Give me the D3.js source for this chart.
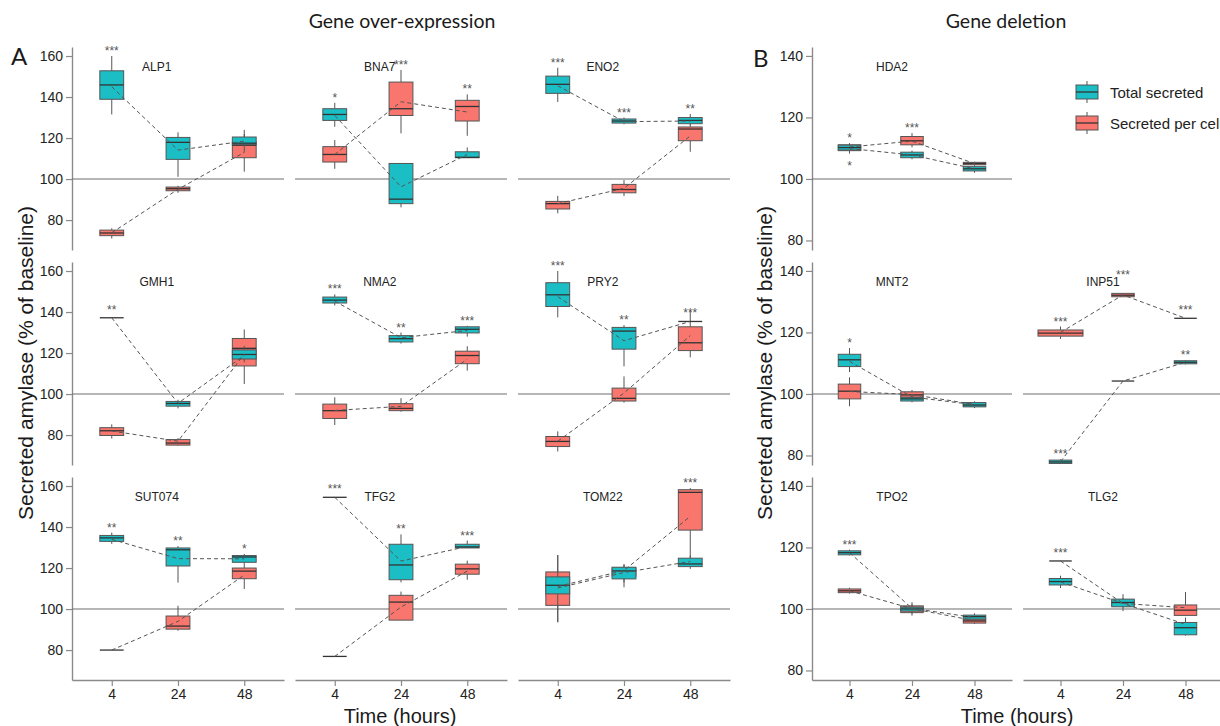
<!DOCTYPE html>
<html>
<head>
<meta charset="utf-8">
<script src="https://cdn.jsdelivr.net/npm/d3@7"></script>
<style>
  body { margin: 0; background: #fff; }
  svg text { font-family: "Liberation Sans", Arial, sans-serif; }
  .head { font-family: Lato, "Open Sans", sans-serif !important; }
</style>
</head>
<body>
<svg id="chart"></svg>
<script>
// ---- data ----------------------------------------------------------------
const times = ['4', '24', '48'];

const genes = ['ALP1', 'BNA7', 'ENO2', 'GMH1', 'NMA2', 'PRY2', 'SUT074', 'TFG2', 'TOM22',
               'HDA2', 'MNT2', 'INP51', 'TPO2', 'TLG2'];

// boxes per time point: [lower whisker, Q1, median, Q3, upper whisker]
const totalBoxes = [
  [[131.5, 138.9, 145.9, 152.8, 160], [101.1, 109.6, 117.9, 120.3, 122.8], [113, 116.8, 117.5, 120.5, 124]],   // ALP1
  [[125.5, 128.6, 131.5, 134.3, 137.2], [86.2, 88, 90.2, 107.6, 107.6], [110.4, 110.4, 110.6, 113.3, 115.4]],   // BNA7
  [[137.6, 141.8, 146.2, 150.2, 154.3], [126.7, 127.3, 128.3, 129.3, 130], [126.5, 127, 128.6, 130, 131.7]],    // ENO2
  [[137.2, 137.2, 137.2, 137.2, 137.2], [93, 94.1, 95.4, 96.4, 97.2], [115.5, 117.1, 119.3, 121.5, 123.5]],     // GMH1
  [[143.2, 144.4, 145.8, 147.3, 148.6], [124.6, 125.4, 127, 128.5, 130], [128, 129.8, 131.6, 132.8, 133.3]],    // NMA2
  [[137.4, 142.7, 148.4, 154.3, 160], [113.5, 121.9, 130.7, 132.5, 133.6], [135.4, 135.4, 135.4, 135.4, 135.4]], // PRY2
  [[131.8, 133, 134.7, 135.9, 137.3], [112.9, 121, 128.9, 129.8, 130.7], [122, 122.8, 125.4, 126.1, 126.9]],    // SUT074
  [[154.5, 154.5, 154.5, 154.5, 154.5], [113, 114.3, 121.5, 131.6, 136.4], [129.8, 129.8, 130.3, 131.6, 133.4]], // TFG2
  [[93.6, 107.4, 111.6, 115.7, 126.3], [110.6, 114.7, 118.6, 120.4, 122], [119.6, 120.7, 122, 124.8, 126.1]],   // TOM22
  [[108.3, 109.4, 110.2, 111, 111.6], [106.4, 106.9, 107.8, 108.7, 109.2], [102, 102.6, 103.3, 104, 104.3]],    // HDA2
  [[107.1, 108.9, 111.1, 112.9, 114.9], [97.3, 97.7, 98.4, 98.9, 99.3], [95.4, 95.8, 96.4, 97.2, 97.6]],        // MNT2
  [[77.2, 77.4, 77.9, 78.5, 78.7], [104.2, 104.2, 104.2, 104.2, 104.2], [109.6, 109.8, 110.3, 110.8, 111]],     // INP51
  [[117.4, 117.6, 118.3, 118.9, 119.3], [98.5, 99.3, 100, 100.6, 101.5], [96.5, 96.7, 97.5, 98, 98.6]],         // TPO2
  [[106.8, 107.8, 108.9, 109.9, 110.8], [99.3, 100.7, 102.1, 103.2, 104.8], [91.3, 91.6, 93.9, 95.6, 97.2]]     // TLG2
];

const perCellBoxes = [
  [[71, 72.4, 73.7, 75.1, 76], [93.3, 94.3, 95.3, 96.1, 96.7], [103.6, 110.4, 116.5, 118, 122]],                // ALP1
  [[105, 108.3, 112, 115.8, 119], [122.3, 131, 134.3, 147.3, 153.2], [121.1, 128.3, 135.4, 138.4, 141.3]],      // BNA7
  [[83.3, 85.4, 88, 89.1, 91.8], [91.7, 93.3, 94.9, 97.4, 99.5], [113.3, 118.7, 124.4, 125.4, 127]],            // ENO2
  [[78.3, 79.8, 82.1, 83.6, 85.2], [74.8, 75.1, 76.1, 77.8, 78.5], [104.9, 113.7, 122.3, 127.1, 131.5]],        // GMH1
  [[84.9, 88.1, 91.9, 95.1, 98.4], [91.4, 91.9, 93, 95.3, 98], [111.4, 114.8, 118.8, 120.9, 123.3]],            // NMA2
  [[72, 74.4, 76.9, 79.3, 81.8], [95.8, 96.6, 97.9, 102.9, 108.6], [117.9, 121.2, 125, 132.8, 140.8]],          // PRY2
  [[80, 80, 80, 80, 80], [89.4, 90.2, 91.7, 96.6, 101.6], [109.8, 114.8, 118.5, 120, 122]],                     // SUT074
  [[76.9, 76.9, 76.9, 76.9, 76.9], [94.6, 94.6, 103.4, 106.7, 108.5], [114.3, 117, 119.6, 121.9, 123.6]],       // TFG2
  [[93.6, 101.8, 110.5, 118.1, 126.3], [113, 116, 118.5, 120, 121.5], [124.8, 138.5, 156.9, 158.2, 159]],       // TOM22
  [[108.3, 109.2, 110.3, 111.1, 111.6], [110.3, 111.1, 112.4, 113.8, 114.9], [104.3, 104.6, 105, 105.4, 105.6]], // HDA2
  [[96, 98.4, 100.9, 103.2, 105.4], [98, 98.9, 99.7, 100.7, 101.3], [95.6, 96, 96.5, 97, 97.4]],                // MNT2
  [[117.9, 118.8, 119.8, 120.8, 121.9], [131.6, 131.6, 132.1, 132.7, 132.7], [124.6, 124.6, 124.6, 124.6, 124.6]], // INP51
  [[105, 105.3, 105.9, 106.5, 106.9], [97.8, 98.8, 100.2, 101, 102.2], [95.1, 95.4, 96.1, 96.7, 96.9]],         // TPO2
  [[115.6, 115.6, 115.6, 115.6, 115.6], [100.5, 101, 101.8, 102.8, 103.5], [97.9, 97.9, 99.6, 101.3, 105.5]]    // TLG2
];

// means joined by the dashed lines
const totalMeans = [
  [145, 114.1, 118.5], [131, 96.2, 112], [145.5, 128, 128.3], [137.2, 95.5, 118.8], [145.3, 127.5, 131],
  [147.5, 126, 135.4], [134, 124.6, 124.5], [154.5, 123.4, 130.5], [110.3, 117.8, 123.2],
  [109.9, 107.8, 103.3], [110.6, 99, 96.5], [78, 104.2, 110.3], [118.3, 100.2, 97.2], [108.8, 101.8, 95]
];
const perCellMeans = [
  [73.8, 95, 113], [112, 137.7, 132.7], [88, 95.5, 121], [82, 77, 119.5], [92, 94, 117],
  [77, 100.5, 128.5], [80, 94, 116.6], [76.9, 101, 118.5], [111, 118.8, 145.2],
  [110.4, 112.3, 105], [100.8, 99.8, 96.6], [120, 132.2, 124.6], [105.9, 100.1, 96.2], [115.6, 101.8, 100.4]
];

// relative sample size (box width grows with sqrt(n))
const sampleWeights = [['INP51', 'perCell', 0, 4]];

// significance: gene, series, time index, label, placement
const stars = [
  ['ALP1', 'total', 0, '***'],
  ['BNA7', 'total', 0, '*'], ['BNA7', 'perCell', 1, '***'], ['BNA7', 'perCell', 2, '**'],
  ['ENO2', 'total', 0, '***'], ['ENO2', 'total', 1, '***'], ['ENO2', 'total', 2, '**'],
  ['GMH1', 'total', 0, '**'],
  ['NMA2', 'total', 0, '***'], ['NMA2', 'total', 1, '**'], ['NMA2', 'total', 2, '***'],
  ['PRY2', 'total', 0, '***'], ['PRY2', 'total', 1, '**'], ['PRY2', 'total', 2, '***'],
  ['SUT074', 'total', 0, '**'], ['SUT074', 'total', 1, '**'], ['SUT074', 'total', 2, '*'],
  ['TFG2', 'total', 0, '***'], ['TFG2', 'total', 1, '**'], ['TFG2', 'total', 2, '***'],
  ['TOM22', 'perCell', 2, '***'],
  ['HDA2', 'perCell', 0, '*'], ['HDA2', 'total', 0, '*', 'below'], ['HDA2', 'perCell', 1, '***'],
  ['MNT2', 'total', 0, '*'],
  ['INP51', 'perCell', 0, '***'], ['INP51', 'perCell', 1, '***', 'raised'], ['INP51', 'perCell', 2, '***'],
  ['INP51', 'total', 0, '***'], ['INP51', 'total', 2, '**'],
  ['TPO2', 'total', 0, '***'],
  ['TLG2', 'perCell', 0, '***']
];

const ticksA = [80, 100, 120, 140, 160];
const ticksB = [80, 100, 120, 140];
const legendLabels = ['Total secreted', 'Secreted per cell'];

// ---- layout --------------------------------------------------------------
const width = 1220;
const height = 726;

const groups = {
  A: { left: 72, colW: 212, colStep: 223, domain: [65.4, 164.4], ticks: ticksA },
  B: { left: 812, colW: 200, colStep: 211, domain: [76.9, 142.9], ticks: ticksB }
};
const rowTop = [47, 262, 477];
const rowH = 203;
const panelGroup = ['A', 'A', 'A', 'A', 'A', 'A', 'A', 'A', 'A', 'B', 'B', 'B', 'B', 'B'];
const panelRow = [0, 0, 0, 1, 1, 1, 2, 2, 2, 0, 1, 1, 2, 2];
const panelCol = [0, 1, 2, 0, 1, 2, 0, 1, 2, 0, 0, 1, 0, 1];

const teal = '#1bbec5';
const salmon = '#f8766d';
const series = [
  { key: 'perCell', boxes: perCellBoxes, means: perCellMeans, fill: salmon },
  { key: 'total', boxes: totalBoxes, means: totalMeans, fill: teal }
];

const svg = d3.select('#chart')
  .attr('width', width)
  .attr('height', height);

svg.append('rect').attr('width', width).attr('height', height).attr('fill', '#fff');

function styleAxis(g) {
  g.select('.domain').attr('stroke', '#8a8a8a').attr('stroke-width', 1.4);
  g.selectAll('.tick line').attr('stroke', '#8a8a8a').attr('stroke-width', 1.2);
  g.selectAll('.tick text').attr('fill', '#222').style('font-size', '14px');
}

// ---- panels --------------------------------------------------------------
genes.forEach((gene, gi) => {
  const grp = groups[panelGroup[gi]];
  const left = grp.left + panelCol[gi] * grp.colStep;
  const top = rowTop[panelRow[gi]];

  const x = d3.scalePoint()
    .domain(times)
    .range([left, left + grp.colW])
    .padding(0.6);
  const y = d3.scaleLinear()
    .domain(grp.domain)
    .range([top + rowH, top]);

  const panel = svg.append('g').attr('class', 'panel');

  // y axis on the first column only
  if (panelCol[gi] === 0) {
    panel.append('g')
      .attr('transform', `translate(${left},0)`)
      .call(d3.axisLeft(y).tickValues(grp.ticks).tickSize(6).tickSizeOuter(0).tickPadding(3))
      .call(styleAxis);
  }
  // x axis on the bottom row only
  if (panelRow[gi] === 2) {
    panel.append('g')
      .attr('transform', `translate(0,${top + rowH})`)
      .call(d3.axisBottom(x).tickSize(6).tickSizeOuter(0).tickPadding(3))
      .call(styleAxis);
  }

  // baseline at 100 %
  panel.append('line')
    .attr('x1', left).attr('x2', left + grp.colW)
    .attr('y1', y(100)).attr('y2', y(100))
    .attr('stroke', '#6e6e6e').attr('stroke-width', 1.1);

  // gene name
  panel.append('text')
    .attr('x', x(times[0]) + 0.68 * x.step())
    .attr('y', top + 24)
    .attr('text-anchor', 'middle')
    .attr('fill', '#222')
    .style('font-size', '12px')
    .text(gene);

  // boxes
  series.forEach(s => {
    s.boxes[gi].forEach((b, ti) => {
      const w = sampleWeights.find(d => d[0] === gene && d[1] === s.key && d[2] === ti);
      const bw = 0.36 * x.step() * Math.sqrt(w ? w[3] : 1);
      const cx = x(times[ti]);
      const [lo, q1, med, q3, hi] = b;

      panel.append('line')
        .attr('x1', cx).attr('x2', cx).attr('y1', y(hi)).attr('y2', y(q3))
        .attr('stroke', '#555').attr('stroke-width', 1);
      panel.append('line')
        .attr('x1', cx).attr('x2', cx).attr('y1', y(q1)).attr('y2', y(lo))
        .attr('stroke', '#555').attr('stroke-width', 1);
      panel.append('rect')
        .attr('x', cx - bw / 2).attr('width', bw)
        .attr('y', y(q3)).attr('height', y(q1) - y(q3))
        .attr('fill', s.fill)
        .attr('stroke', '#555').attr('stroke-width', 1);
      panel.append('line')
        .attr('x1', cx - bw / 2).attr('x2', cx + bw / 2)
        .attr('y1', y(med)).attr('y2', y(med))
        .attr('stroke', '#333').attr('stroke-width', 1.3);
    });
  });

  // dashed mean lines
  const line = d3.line()
    .x((d, i) => x(times[i]))
    .y(d => y(d));
  series.forEach(s => {
    panel.append('path')
      .datum(s.means[gi])
      .attr('d', line)
      .attr('fill', 'none')
      .attr('stroke', '#555')
      .attr('stroke-width', 1)
      .attr('stroke-dasharray', '4,3');
  });

  // stars
  stars.filter(d => d[0] === gene).forEach(d => {
    const s = series.find(e => e.key === d[1]);
    const b = s.boxes[gi][d[2]];
    const flat = b[4] === b[0];
    let ty;
    if (d[4] === 'below') ty = y(b[0]) + 17;
    else if (d[4] === 'raised') ty = y(b[4]) - 14;
    else ty = y(b[4]) - (flat ? 4 : 1);
    panel.append('text')
      .attr('x', x(times[d[2]]))
      .attr('y', ty)
      .attr('text-anchor', 'middle')
      .attr('fill', '#555')
      .style('font-size', '12px')
      .text(d[3]);
  });
});

// ---- legend --------------------------------------------------------------
const legend = svg.append('g').attr('transform', 'translate(1076,85)');
[teal, salmon].forEach((c, i) => {
  const g = legend.append('g').attr('transform', `translate(0,${i * 31})`);
  g.append('line').attr('x1', 11).attr('x2', 11).attr('y1', -4).attr('y2', 18)
    .attr('stroke', '#555');
  g.append('rect').attr('width', 22).attr('height', 14)
    .attr('fill', c).attr('stroke', '#555');
  g.append('line').attr('x1', 0).attr('x2', 22).attr('y1', 7).attr('y2', 7)
    .attr('stroke', '#333').attr('stroke-width', 1.3);
  g.append('text').attr('x', 34).attr('y', 13)
    .attr('fill', '#222')
    .style('font-size', '15px')
    .text(legendLabels[i]);
});

// ---- titles --------------------------------------------------------------
const heads = [
  { t: 'Gene over-expression', x: 402, y: 28, size: 19.5, anchor: 'middle' },
  { t: 'Gene deletion', x: 1006, y: 28, size: 19.5, anchor: 'middle' },
  { t: 'A', x: 11, y: 65, size: 24, anchor: 'start' },
  { t: 'B', x: 753, y: 67, size: 24, anchor: 'start' }
];
heads.forEach(h => {
  svg.append('text')
    .attr('class', 'head')
    .attr('x', h.x).attr('y', h.y)
    .attr('text-anchor', h.anchor)
    .attr('fill', '#1a1a1a')
    .style('font-size', h.size + 'px')
    .text(h.t);
});

[400, 1017].forEach(cx => {
  svg.append('text')
    .attr('x', cx).attr('y', 723)
    .attr('text-anchor', 'middle')
    .attr('fill', '#1a1a1a')
    .style('font-size', '20px')
    .text('Time (hours)');
});

[33, 772].forEach(bx => {
  svg.append('text')
    .attr('transform', `translate(${bx},363) rotate(-90)`)
    .attr('text-anchor', 'middle')
    .attr('fill', '#1a1a1a')
    .style('font-size', '21px')
    .text('Secreted amylase (% of baseline)');
});
</script>
</body>
</html>
